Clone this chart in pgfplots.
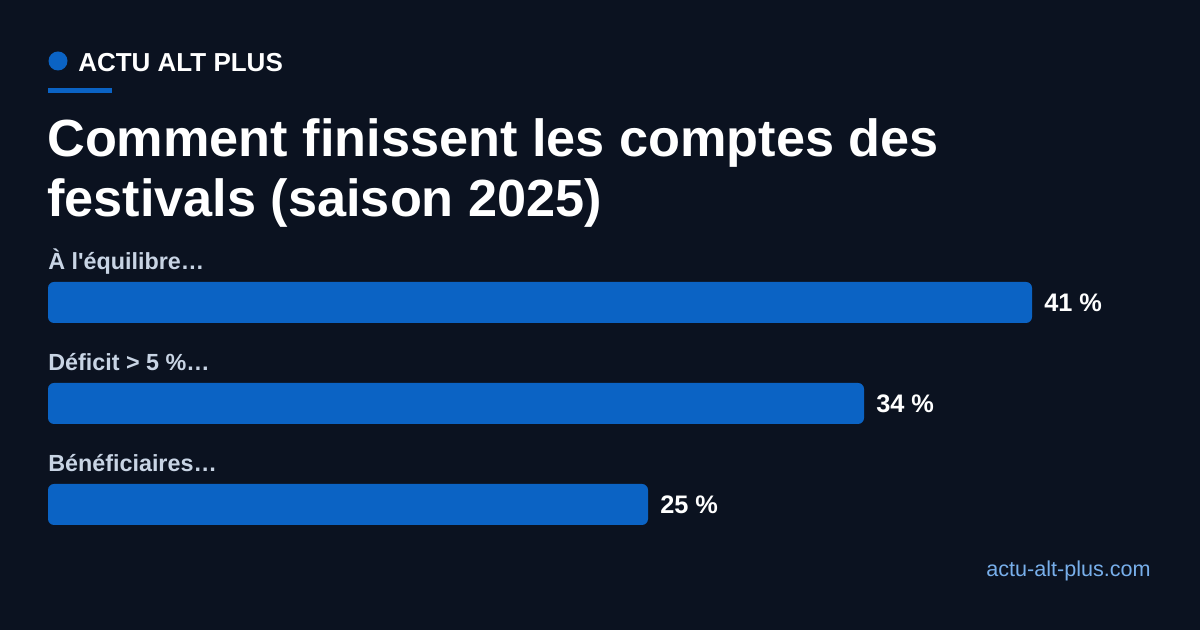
\documentclass[border=0pt]{standalone}
\usepackage{fontspec}
\setmainfont{Liberation Sans}[Ligatures=TeXOff]
\usepackage{pgfplots}
\pgfplotsset{compat=1.18}
\definecolor{bg}{HTML}{0B1220}
\definecolor{barblue}{HTML}{0B63C4}
\definecolor{catgrey}{HTML}{C8D4E4}
\definecolor{sitelink}{HTML}{78AFEB}

\begin{document}
\begin{tikzpicture}[x=0.75pt,y=0.75pt,
	catlabel/.style={anchor=base west, inner sep=0, text=catgrey,
		yshift=24.4pt, font=\fontsize{17.5}{21}\selectfont\bfseries}]
	% canvas (1 unit = 1 px, y measured from bottom)
	\fill[bg] (0,0) rectangle (1200,630);
	\useasboundingbox (0,0) rectangle (1200,630);

	% header
	\fill[barblue] (58,569) circle (9.5);
	\node[anchor=base west, inner sep=0, text=white, font=\fontsize{19.5}{23}\selectfont\bfseries]
		at (78,558) {ACTU ALT PLUS};
	\fill[barblue] (48,537) rectangle (112,542);

	% title
	\node[anchor=base west, inner sep=0, text=white, font=\fontsize{39.2}{47}\selectfont\bfseries]
		at (47,473) {Comment finissent les comptes des};
	\node[anchor=base west, inner sep=0, text=white, font=\fontsize{39.2}{47}\selectfont\bfseries]
		at (47,413) {festivals (saison 2025)};

	\begin{axis}[
		at={(36pt,56.25pt)}, anchor=south west,
		scale only axis,
		width=828pt, height=227.25pt,
		xbar, bar width=30.75pt,
		xmin=0, xmax=46,
		ymin=-0.5, ymax=2.5,
		y dir=reverse,
		axis lines=none,
		clip=false,
		/pgf/number format/assume math mode=true,
		nodes near coords={\pgfmathprintnumber{\pgfplotspointmeta}~\%},
		point meta=x,
		every node near coord/.append style={
			anchor=west, inner sep=0pt, xshift=9pt, text=white,
			font=\fontsize{19}{23}\selectfont\bfseries},
	]
		\addplot[fill=barblue, draw=none, rounded corners=4.5pt] coordinates {
			(41,0) (34,1) (25,2)
		};

		% category labels above the bars
		\node[catlabel] at (axis cs:0,0) {À l'équilibre…};
		\node[catlabel] at (axis cs:0,1) {Déficit > 5 \%…};
		\node[catlabel] at (axis cs:0,2) {Bénéficiaires…};
	\end{axis}

	% footer
	\node[anchor=base east, inner sep=0, text=sitelink, font=\fontsize{16.2}{19}\selectfont]
		at (1151,53) {actu-alt-plus.com};
\end{tikzpicture}
\end{document}
